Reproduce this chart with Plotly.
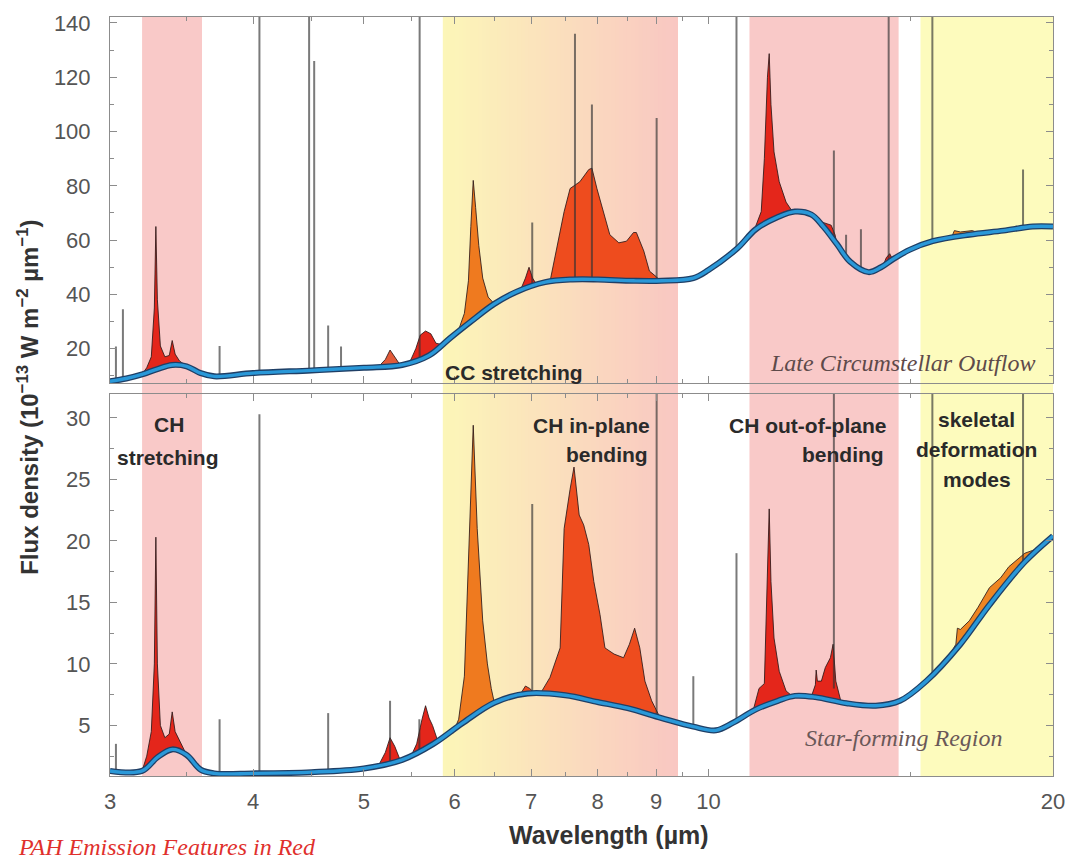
import numpy as np
import plotly.graph_objects as go

# ---------------- axis ticks ----------------
x_tickvals = [3, 4, 5, 6, 7, 8, 9, 10, 20]
x_ticktext = ["3", "4", "5", "6", "7", "8", "9", "10", "20"]
x_minor = [3.5, 4.5, 5.5, 6.5, 7.5, 8.5, 9.5, 15]
top_yticks = [20, 40, 60, 80, 100, 120, 140]
bot_yticks = [5, 10, 15, 20, 25, 30]

# ---------------- vibrational-mode bands (µm) ----------------
band_pink = [(3.20, 3.61), (10.86, 14.66)]
band_yellow = [(15.32, 20.0)]
band_grad = (5.86, 9.40)

# ---------------- Top panel: Late Circumstellar Outflow ----------------
top_cont_wl = [3.0, 3.1, 3.2, 3.3, 3.4, 3.5, 3.6, 3.7, 4.0, 4.5, 5.0, 5.4, 5.7, 5.95, 6.2,
               6.5, 6.8, 7.2, 7.6, 8.0, 8.6, 9.1, 9.7, 10.0, 10.6, 11.0, 11.5, 11.9, 12.3,
               12.6, 12.95, 13.3, 13.8, 14.15, 14.5, 15.0, 15.7, 16.9, 18.1, 19.2, 20.0]
top_cont = [8, 9, 10.5, 12.5, 14, 13.5, 11, 9.8, 11, 12, 13, 14, 17.5, 24, 30,
            36.5, 41, 44.5, 45.5, 45.5, 45, 45, 46, 49, 57, 64, 68.5, 70.5, 69.4,
            65, 58.5, 52, 48.2, 50, 53, 56.5, 59.6, 62, 63.5, 65, 65]

top_f33_wl = [3.2, 3.23, 3.26, 3.28, 3.29, 3.30, 3.32, 3.35, 3.38, 3.40, 3.42, 3.45, 3.5]
top_f33 = [10.5, 13, 17, 35, 65, 38, 21, 17, 17.5, 23, 18, 15.5, 13.5]
top_f525_wl = [5.15, 5.22, 5.27, 5.32, 5.38]
top_f525 = [13.4, 16, 19.5, 17, 13.9]
top_f57_wl = [5.48, 5.55, 5.60, 5.66, 5.72, 5.78, 5.85]
top_f57 = [14.8, 20, 25, 26.5, 25.5, 22, 21.5]
top_f62_wl = [5.98, 6.05, 6.12, 6.17, 6.20, 6.23, 6.26, 6.30, 6.35, 6.42, 6.5]
top_f62 = [24.7, 27, 33, 45, 65, 82, 72, 58, 46, 39, 36.5]
top_f695_wl = [6.85, 6.92, 6.97, 7.02, 7.08]
top_f695 = [41.5, 46, 50, 46, 43.5]
top_f77_wl = [7.27, 7.375, 7.48, 7.57, 7.72, 7.86, 7.91, 7.99, 8.10, 8.20, 8.35, 8.48,
              8.60, 8.65, 8.78, 8.88, 9.01, 9.07]
top_f77 = [44.7, 58, 70.5, 79, 81.5, 86, 86.5, 79, 70.5, 62, 59, 59.6,
           62.8, 62.8, 56, 48.6, 46.4, 45]
top_f112_wl = [10.96, 11.12, 11.19, 11.26, 11.30, 11.34, 11.41, 11.53, 11.69, 11.85]
top_f112 = [63.5, 70.5, 90, 120, 128.7, 110, 92.5, 81.5, 74, 70.3]
top_f127_wl = [12.45, 12.6, 12.7, 12.8, 12.9, 12.95]
top_f127 = [67.2, 66.5, 66, 65.5, 62, 58.5]
top_f143_wl = [14.2, 14.3, 14.4, 14.48]
top_f143 = [50.3, 53.5, 55, 53]
top_f164_wl = [16.3, 16.4, 16.6, 17.0, 17.3]
top_f164 = [60.8, 63.5, 63, 63.5, 62.4]

top_lines_wl = [3.036, 3.079, 3.74, 4.052, 4.478, 4.524, 4.653, 4.775, 5.593, 7.015,
                7.645, 7.91, 9.01, 10.58, 12.87, 13.19, 13.59, 14.37, 15.69, 18.83]
top_lines_base = [8.3, 8.6, 9.9, 11, 11.9, 12, 12.3, 12.5, 16.3, 44,
                  45.5, 45.5, 45, 57, 60.5, 53.5, 49, 51.5, 59.6, 64.5]
top_lines_peak = [20.8, 34.5, 21, 160, 160, 126, 28.5, 20.8, 160, 66.5,
                  136, 110, 105, 160, 93, 62, 64, 160, 160, 86]

# ---------------- Bottom panel: Star-forming Region ----------------
bot_cont_wl = [3.0, 3.2, 3.3, 3.4, 3.5, 3.6, 3.7, 4.0, 4.5, 5.0, 5.4, 5.75, 6.1, 6.5,
               6.95, 7.5, 8.0, 8.5, 9.1, 9.7, 10.15, 10.5, 11.0, 11.5, 11.9, 12.4, 13.2,
               14.0, 14.7, 15.5, 16.6, 17.6, 18.9, 20.0]
bot_cont = [1.3, 1.3, 2.4, 3.05, 2.6, 1.4, 1.1, 1.1, 1.2, 1.5, 2.2, 3.5, 5.2, 6.85,
            7.6, 7.45, 6.9, 6.4, 5.6, 4.9, 4.6, 5.2, 6.3, 7.0, 7.4, 7.3, 6.8,
            6.6, 7.0, 8.6, 11.6, 14.8, 18.3, 20.4]

bot_f33_wl = [3.2, 3.23, 3.26, 3.28, 3.29, 3.30, 3.32, 3.35, 3.38, 3.40, 3.42, 3.46, 3.5]
bot_f33 = [1.3, 2.5, 4.5, 10, 20.3, 10, 5, 4, 4.3, 6.1, 4.5, 3.5, 2.6]
bot_f525_wl = [5.15, 5.22, 5.27, 5.32, 5.38]
bot_f525 = [1.75, 2.8, 4.0, 3.3, 2.15]
bot_f57_wl = [5.50, 5.56, 5.62, 5.66, 5.70, 5.74, 5.80]
bot_f57 = [2.55, 3.5, 5.5, 6.6, 5.6, 5.0, 3.75]
bot_f62_wl = [5.98, 6.05, 6.12, 6.18, 6.23, 6.28, 6.35, 6.41, 6.46, 6.5]
bot_f62 = [4.35, 5.5, 9, 20, 29.4, 21, 13.5, 10, 8, 6.85]
bot_f695_wl = [6.85, 6.92, 6.98, 7.05]
bot_f695 = [7.55, 8.2, 8.0, 7.6]
bot_f77_wl = [7.13, 7.27, 7.42, 7.48, 7.57, 7.63, 7.71, 7.78, 7.86, 7.94, 8.04, 8.12,
              8.27, 8.43, 8.53, 8.62, 8.71, 8.80, 8.92, 9.07]
bot_f77 = [7.58, 8.9, 11.3, 21, 24.2, 26, 22.1, 21.3, 19.7, 16.7, 14, 11.3,
           10.8, 10.5, 11.6, 12.9, 11.3, 8.6, 7.0, 5.65]
bot_f112_wl = [10.94, 11.07, 11.19, 11.26, 11.30, 11.34, 11.41, 11.53, 11.69, 11.85]
bot_f112 = [6.2, 8.0, 8.4, 16.7, 22.6, 16.7, 12.1, 9.4, 7.8, 7.35]
bot_f127_wl = [12.3, 12.4, 12.42, 12.45, 12.55, 12.65, 12.78, 12.85, 12.92, 13.05]
bot_f127 = [7.35, 8.3, 9.5, 8.6, 8.6, 9.7, 10.5, 11.6, 8.6, 7.0]
bot_f17_wl = [15.5, 15.8, 16.2, 16.45, 16.5, 16.6, 16.9, 17.2, 17.6, 18.0, 18.3, 18.9, 19.5]
bot_f17 = [8.6, 9.4, 10.5, 11.6, 12.9, 12.8, 13.5, 14.6, 16.2, 17.0, 17.9, 19.0, 19.45]

bot_lines_wl = [3.036, 3.74, 4.052, 4.653, 5.27, 5.59, 7.015, 9.01, 9.70, 10.58, 12.87, 15.69, 18.83]
bot_lines_base = [1.3, 1.1, 1.1, 1.3, 2.0, 2.7, 7.6, 5.8, 4.9, 5.3, 8.0, 8.9, 18.3]
bot_lines_peak = [3.5, 5.5, 30.3, 6.0, 7.0, 5.5, 23.0, 40, 9.0, 19.0, 40, 40, 40]

# ---------------- styles ----------------
RED = "#e4261b"
ORANGE = "#ef7a1f"
REDOR = "#ee4c1e"
SALMON = "#e25a38"
SKEL = "#ee8522"
PINK = "#f9c9c8"
YELLOW = "#fdfbbd"
GRAD_A = (252, 246, 184)
GRAD_B = (249, 199, 194)

fig = go.Figure()


def add_feature(wl, fl, cwl, cfl, color, xa, ya):
    cwl = np.asarray(cwl)
    cfl = np.asarray(cfl)
    m = (cwl > wl[0]) & (cwl < wl[-1])
    xs = list(wl) + list(cwl[m][::-1])
    ys = list(fl) + list(cfl[m][::-1])
    fig.add_trace(go.Scatter(x=xs, y=ys, fill="toself", fillcolor=color, mode="lines",
                             line=dict(color="rgba(45,25,25,0.85)", width=1),
                             xaxis=xa, yaxis=ya, hoverinfo="skip", showlegend=False))


def add_lines(wls, base, peak, xa, ya):
    xs, ys = [], []
    for w, b, p in zip(wls, base, peak):
        xs += [w, w, None]
        ys += [b, p, None]
    fig.add_trace(go.Scatter(x=xs, y=ys, mode="lines",
                             line=dict(color="rgba(50,50,50,0.65)", width=2),
                             xaxis=xa, yaxis=ya, hoverinfo="skip", showlegend=False))


def add_cont(wl, fl, xa, ya):
    fig.add_trace(go.Scatter(x=wl, y=fl, mode="lines", line=dict(color="#1f3f66", width=6, shape="spline"),
                             xaxis=xa, yaxis=ya, hoverinfo="skip", showlegend=False))
    fig.add_trace(go.Scatter(x=wl, y=fl, mode="lines", line=dict(color="#2a98d8", width=3.4, shape="spline"),
                             xaxis=xa, yaxis=ya, hoverinfo="skip", showlegend=False))


# top panel
for wl, fl, col in [(top_f33_wl, top_f33, RED), (top_f525_wl, top_f525, SALMON),
                    (top_f57_wl, top_f57, RED), (top_f62_wl, top_f62, ORANGE),
                    (top_f695_wl, top_f695, RED), (top_f77_wl, top_f77, REDOR),
                    (top_f112_wl, top_f112, RED), (top_f127_wl, top_f127, RED),
                    (top_f143_wl, top_f143, RED), (top_f164_wl, top_f164, SKEL)]:
    add_feature(wl, fl, top_cont_wl, top_cont, col, "x2", "y2")
add_lines(top_lines_wl, top_lines_base, top_lines_peak, "x2", "y2")
add_cont(top_cont_wl, top_cont, "x2", "y2")

# bottom panel
for wl, fl, col in [(bot_f33_wl, bot_f33, RED), (bot_f525_wl, bot_f525, RED),
                    (bot_f57_wl, bot_f57, RED), (bot_f62_wl, bot_f62, ORANGE),
                    (bot_f695_wl, bot_f695, REDOR), (bot_f77_wl, bot_f77, REDOR),
                    (bot_f112_wl, bot_f112, RED), (bot_f127_wl, bot_f127, RED),
                    (bot_f17_wl, bot_f17, SKEL)]:
    add_feature(wl, fl, bot_cont_wl, bot_cont, col, "x", "y")
add_lines(bot_lines_wl, bot_lines_base, bot_lines_peak, "x", "y")
add_cont(bot_cont_wl, bot_cont, "x", "y")

# ---------------- bands as shapes ----------------
shapes = []
for a, b in band_pink:
    shapes.append(dict(type="rect", xref="x", yref="paper", x0=a, x1=b, y0=0, y1=1,
                       fillcolor=PINK, line=dict(width=0), layer="below"))
for a, b in band_yellow:
    shapes.append(dict(type="rect", xref="x", yref="paper", x0=a, x1=b, y0=0, y1=1,
                       fillcolor=YELLOW, line=dict(width=0), layer="below"))
ng = 60
la, lb = np.log10(band_grad[0]), np.log10(band_grad[1])
for i in range(ng):
    t = i / (ng - 1)
    c = tuple(int(round(GRAD_A[k] + (GRAD_B[k] - GRAD_A[k]) * t)) for k in range(3))
    shapes.append(dict(type="rect", xref="x", yref="paper",
                       x0=10 ** (la + (lb - la) * i / ng), x1=band_grad[1], y0=0, y1=1,
                       fillcolor="rgb(%d,%d,%d)" % c, line=dict(width=0), layer="below"))

# ---------------- annotations ----------------
BOLD = dict(family="Liberation Sans, Arial, sans-serif", size=21, color="#2a2a2a", weight="bold")
SERIF = dict(family="Liberation Serif, Times New Roman, serif", size=24, color="#5e4a4a", style="italic")
ann = []


def A(text, x, y, font, xanchor="center", **kw):
    ann.append(dict(text=text, x=x, y=y, xref="paper", yref="paper", showarrow=False,
                    xanchor=xanchor, yanchor="middle", font=font, **kw))


A("CC stretching", 0.4286, 0.5320, BOLD)
A("Late Circumstellar Outflow", 0.983, 0.5438, SERIF, xanchor="right")
A("CH", 0.0630, 0.4627, BOLD)
A("stretching", 0.0620, 0.4196, BOLD)
A("CH in-plane", 0.5746, 0.4614, BOLD, xanchor="right")
A("bending", 0.5725, 0.4235, BOLD, xanchor="right")
A("CH out-of-plane", 0.8246, 0.4614, BOLD, xanchor="right")
A("bending", 0.8225, 0.4235, BOLD, xanchor="right")
A("skeletal", 0.919, 0.4693, BOLD)
A("deformation", 0.919, 0.4301, BOLD)
A("modes", 0.919, 0.3908, BOLD)
A("Star-forming Region", 0.8424, 0.0497, dict(SERIF, color="#6a5858"))
A("PAH Emission Features in Red", -0.0998, -0.0941,
  dict(family="Liberation Serif, Times New Roman, serif", size=24, color="#e0302c", style="italic"),
  xanchor="left")
A("Wavelength (µm)", 0.529, -0.0771,
  dict(family="Liberation Sans, Arial, sans-serif", size=25, color="#333333", weight="bold"))
A("Flux density (10<sup>−13</sup> W m<sup>−2</sup> µm<sup>−1</sup>)", -0.0872, 0.4993,
  dict(family="Liberation Sans, Arial, sans-serif", size=24, color="#333333", weight="bold"),
  textangle=-90)

# ---------------- layout ----------------
axis_common = dict(showline=True, linecolor="#8c8c8c", linewidth=1, mirror="allticks",
                   ticks="inside", tickcolor="#8c8c8c", showgrid=False, zeroline=False)
xr = [np.log10(3), np.log10(20)]
fig.update_layout(
    width=1076, height=865,
    margin=dict(l=110, r=15, t=11, b=89),
    paper_bgcolor="white", plot_bgcolor="rgba(0,0,0,0)",
    showlegend=False, shapes=shapes, annotations=ann,
    xaxis=dict(axis_common, type="log", range=xr, tickvals=x_tickvals, ticktext=x_ticktext,
               ticklen=7, anchor="y", ticklabelstandoff=6,
               tickfont=dict(family="Liberation Sans, Arial, sans-serif", size=22, color="#555555"),
               minor=dict(tickvals=x_minor, ticks="inside", ticklen=4, tickcolor="#8c8c8c")),
    xaxis2=dict(axis_common, type="log", range=xr, tickvals=x_tickvals, ticklen=7, anchor="y2",
                matches="x", showticklabels=False,
                minor=dict(tickvals=x_minor, ticks="inside", ticklen=4, tickcolor="#8c8c8c")),
    yaxis=dict(axis_common, domain=[0, 0.5033], range=[0.887, 31.94], tickvals=bot_yticks,
               ticklen=7, anchor="x", ticklabelstandoff=14,
               tickfont=dict(family="Liberation Sans, Arial, sans-serif", size=22, color="#555555"),
               minor=dict(dtick=2.5, ticks="inside", ticklen=4, tickcolor="#8c8c8c")),
    yaxis2=dict(axis_common, domain=[0.5176, 1], range=[7.3, 142.2], tickvals=top_yticks,
                ticklen=7, anchor="x2", ticklabelstandoff=14,
                tickfont=dict(family="Liberation Sans, Arial, sans-serif", size=22, color="#555555"),
                minor=dict(dtick=10, ticks="inside", ticklen=4, tickcolor="#8c8c8c")),
)

fig.write_html("out.html")
